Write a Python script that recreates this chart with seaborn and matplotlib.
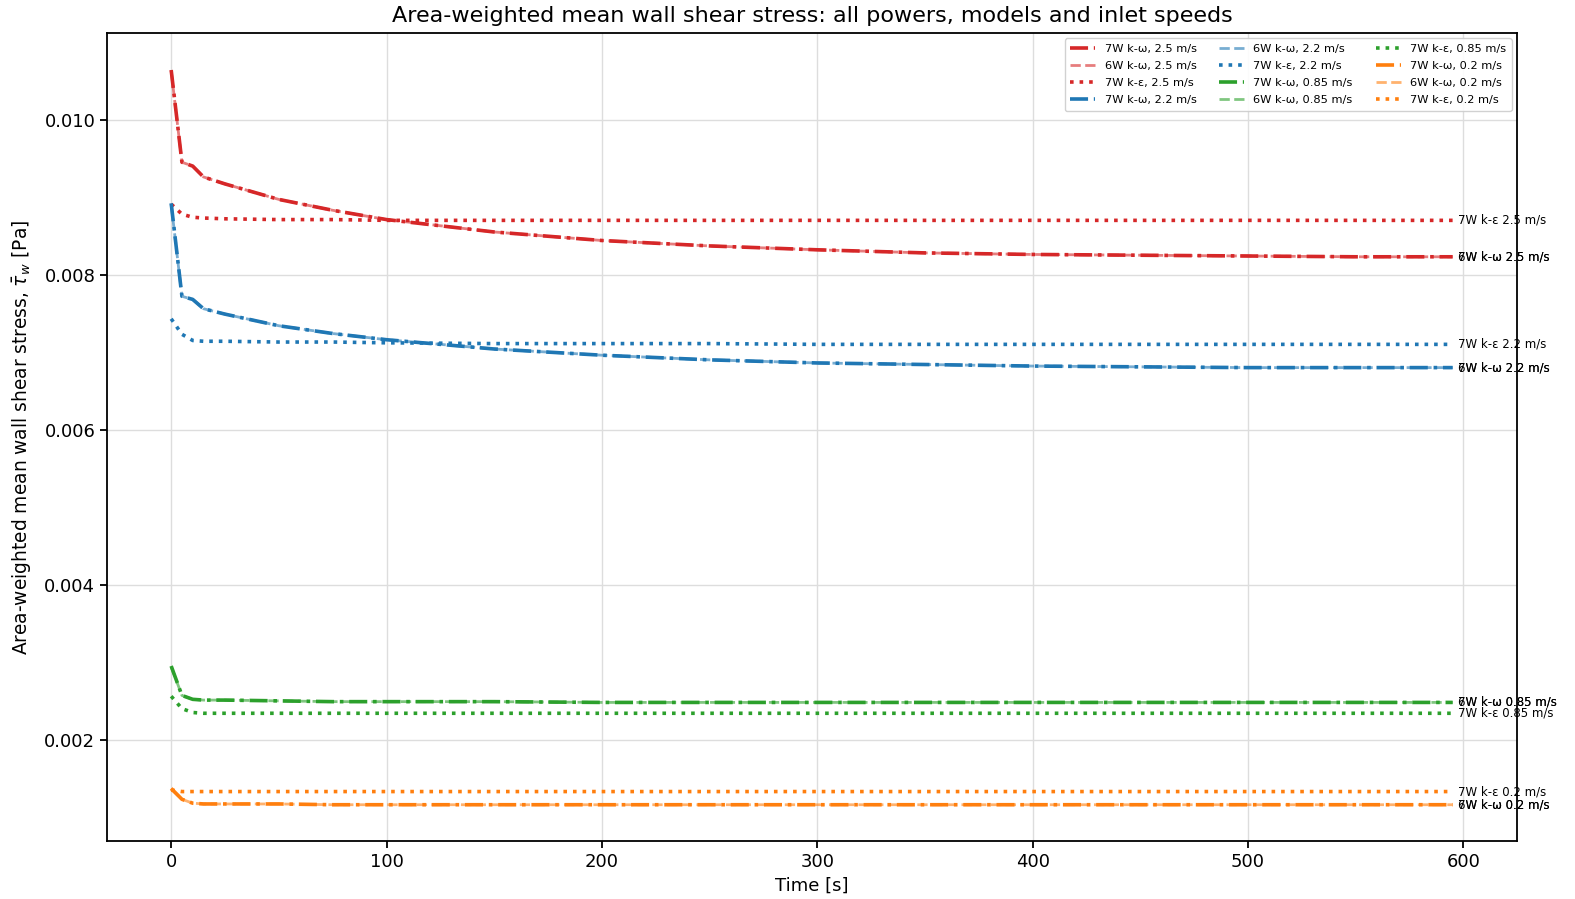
import numpy as np
import pandas as pd
import matplotlib
matplotlib.use("Agg")
import matplotlib.pyplot as plt
import seaborn as sns

sns.set_style("ticks")
plt.rcParams["font.family"] = ["DejaVu Sans"]
plt.rcParams["text.color"] = "black"
plt.rcParams["axes.labelcolor"] = "black"
plt.rcParams["xtick.color"] = "black"
plt.rcParams["ytick.color"] = "black"

time_s = [0, 5, 10, 15, 25, 50, 75, 100, 150, 200, 250, 300, 350, 400, 450, 500, 550, 595]

speeds = ["2.5", "2.2", "0.85", "0.2"]
colors = {"2.5": "#d62728", "2.2": "#1f77b4", "0.85": "#2ca02c", "0.2": "#ff7f0e"}

kw7_25 = [0.01065, 0.00946, 0.00941, 0.00927, 0.00918, 0.00898, 0.00884, 0.00872, 0.00856,
          0.00845, 0.00838, 0.00833, 0.00829, 0.00827, 0.00826, 0.00825, 0.00824, 0.00824]
kw6_25 = [0.01064, 0.00946, 0.00941, 0.00927, 0.00918, 0.00898, 0.00884, 0.00872, 0.00856,
          0.00845, 0.00838, 0.00833, 0.00829, 0.00827, 0.00826, 0.00825, 0.00824, 0.00824]
ke7_25 = [0.00892, 0.00879, 0.00875, 0.00874, 0.00873, 0.00872, 0.00872, 0.00871, 0.00871,
          0.00871, 0.00871, 0.00871, 0.00871, 0.00871, 0.00871, 0.00871, 0.00871, 0.00871]

kw7_22 = [0.00893, 0.00773, 0.00769, 0.00757, 0.00750, 0.00735, 0.00725, 0.00717, 0.00705,
          0.00697, 0.00691, 0.00687, 0.00685, 0.00683, 0.00682, 0.00681, 0.00681, 0.00681]
kw6_22 = [0.00892, 0.00773, 0.00769, 0.00757, 0.00750, 0.00735, 0.00725, 0.00717, 0.00705,
          0.00697, 0.00691, 0.00687, 0.00685, 0.00683, 0.00682, 0.00681, 0.00681, 0.00681]
ke7_22 = [0.00744, 0.00724, 0.00716, 0.00715, 0.00715, 0.00714, 0.00714, 0.00713, 0.00712,
          0.00712, 0.00712, 0.00711, 0.00711, 0.00711, 0.00711, 0.00711, 0.00711, 0.00711]

kw7_085 = [0.00296, 0.00258, 0.00253, 0.00252, 0.00252, 0.00251, 0.00250, 0.00250, 0.00250,
           0.00249, 0.00249, 0.00249, 0.00249, 0.00249, 0.00249, 0.00249, 0.00249, 0.00249]
kw6_085 = [0.00295, 0.00258, 0.00253, 0.00252, 0.00252, 0.00251, 0.00250, 0.00250, 0.00250,
           0.00249, 0.00249, 0.00249, 0.00249, 0.00249, 0.00249, 0.00249, 0.00249, 0.00249]
ke7_085 = [0.00257, 0.00241, 0.00236, 0.00235, 0.00235, 0.00235, 0.00235, 0.00235, 0.00235,
           0.00235, 0.00235, 0.00235, 0.00235, 0.00235, 0.00235, 0.00235, 0.00235, 0.00235]

kw7_02 = [0.00138, 0.00124, 0.00119, 0.00118, 0.00118, 0.00118, 0.00117, 0.00117, 0.00117,
          0.00117, 0.00117, 0.00117, 0.00117, 0.00117, 0.00117, 0.00117, 0.00117, 0.00117]
kw6_02 = [0.00137, 0.00124, 0.00119, 0.00118, 0.00118, 0.00118, 0.00117, 0.00117, 0.00117,
          0.00117, 0.00117, 0.00117, 0.00117, 0.00117, 0.00117, 0.00117, 0.00117, 0.00117]
ke7_02 = [0.00136, 0.00134, 0.00134, 0.00134, 0.00134, 0.00134, 0.00134, 0.00134, 0.00134,
          0.00134, 0.00134, 0.00134, 0.00134, 0.00134, 0.00134, 0.00134, 0.00134, 0.00134]

series = {
    "2.5": [("7W k-ω", kw7_25), ("6W k-ω", kw6_25), ("7W k-ε", ke7_25)],
    "2.2": [("7W k-ω", kw7_22), ("6W k-ω", kw6_22), ("7W k-ε", ke7_22)],
    "0.85": [("7W k-ω", kw7_085), ("6W k-ω", kw6_085), ("7W k-ε", ke7_085)],
    "0.2": [("7W k-ω", kw7_02), ("6W k-ω", kw6_02), ("7W k-ε", ke7_02)],
}

styles = {
    "7W k-ω": dict(linestyle=(0, (5, 1.6, 1, 1.6)), linewidth=2.6, alpha=1.0),
    "6W k-ω": dict(linestyle="--", linewidth=2.0, alpha=0.6),
    "7W k-ε": dict(linestyle=":", linewidth=2.6, alpha=1.0),
}

fig, ax = plt.subplots(figsize=(15.75, 8.99), dpi=100)
fig.subplots_adjust(left=0.068, right=0.963, top=0.963, bottom=0.064)

for sp in speeds:
    for name, vals in series[sp]:
        df = pd.DataFrame({"t": time_s, "tau": vals})
        st = styles[name]
        sns.lineplot(data=df, x="t", y="tau", ax=ax, color=colors[sp],
                     linestyle=st["linestyle"], linewidth=st["linewidth"],
                     alpha=st["alpha"], label=f"{name}, {sp} m/s")
        ax.annotate(f"{name} {sp} m/s", xy=(time_s[-1], vals[-1]),
                    xytext=(4, 0), textcoords="offset points",
                    fontsize=8.5, va="center", ha="left", annotation_clip=False)

ax.grid(True, color="#dddddd", linewidth=1)
ax.set_title("Area-weighted mean wall shear stress: all powers, models and inlet speeds",
             fontsize=16, pad=8)
ax.set_xlabel("Time [s]", fontsize=13)
ax.set_ylabel(r"Area-weighted mean wall shear stress, $\bar{\tau}_w$ [Pa]", fontsize=13.4,
              labelpad=8)
ax.tick_params(labelsize=13, length=5, width=1.3)
ax.set_xticks([0, 100, 200, 300, 400, 500, 600])
ax.set_yticks([0.002, 0.004, 0.006, 0.008, 0.010])
ax.yaxis.set_major_formatter(matplotlib.ticker.FormatStrFormatter("%.3f"))
for s in ax.spines.values():
    s.set_color("black")
    s.set_linewidth(1.3)

ax.legend(ncol=3, loc="upper right", fontsize=8.2, frameon=True, framealpha=0.9,
          borderaxespad=0.45, columnspacing=2.0, handlelength=2.2, labelspacing=0.62,
          borderpad=0.5)

fig.savefig("out.png", dpi=100)
